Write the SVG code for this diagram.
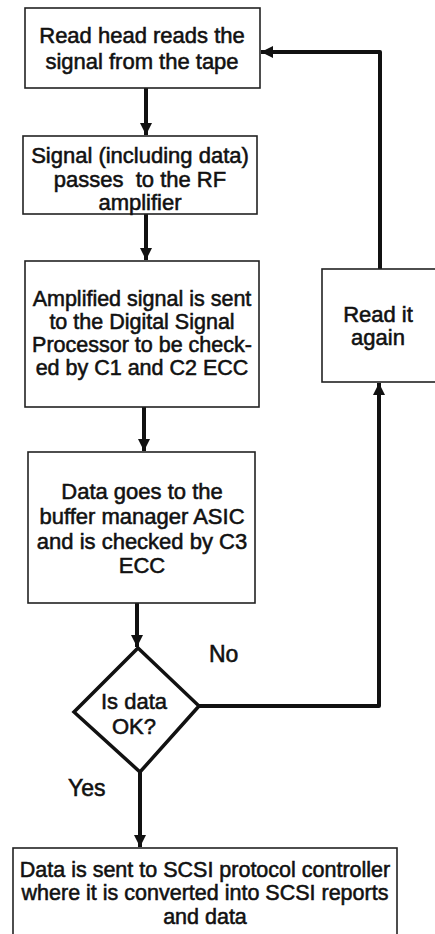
<svg xmlns="http://www.w3.org/2000/svg" width="435" height="934" viewBox="0 0 435 934">
<defs>
<marker id="ah" markerUnits="userSpaceOnUse" markerWidth="12" markerHeight="12" refX="10" refY="5" orient="auto" viewBox="0 0 10 10">
<path d="M0,0 L10,5 L0,10 Z" fill="#111"/>
</marker>
<style>
.box{fill:#fff;stroke:#222;stroke-width:1.6}
.dia{fill:#fff;stroke:#111;stroke-width:3.5;stroke-linejoin:miter}
.t{font-family:"Liberation Sans",Arial,sans-serif;font-size:22px;fill:#111;stroke:#111;stroke-width:0.55;text-anchor:middle}
.lbl{font-family:"Liberation Sans",Arial,sans-serif;font-size:23px;fill:#111;stroke:#111;stroke-width:0.55}
.c{fill:none;stroke:#111;stroke-width:4;stroke-linejoin:round}
</style>
</defs>
<rect width="435" height="934" fill="#fff"/>
<g id="connectors">
<line class="c" x1="146" y1="88" x2="146" y2="135" marker-end="url(#ah)"/>
<line class="c" x1="146" y1="214" x2="146" y2="260" marker-end="url(#ah)"/>
<line class="c" x1="144" y1="407" x2="144" y2="451" marker-end="url(#ah)"/>
<line class="c" x1="137" y1="603" x2="137" y2="647" marker-end="url(#ah)"/>
<line class="c" x1="140" y1="772" x2="140" y2="847" marker-end="url(#ah)"/>
<path class="c" d="M199,706 H379 V383" marker-end="url(#ah)"/>
<path class="c" d="M380,269 V52 H261" marker-end="url(#ah)"/>
<text class="lbl" x="209" y="662">No</text>
<text class="lbl" x="68" y="796">Yes</text>
</g>
<g id="read-head">
<rect class="box" x="25" y="8" width="235" height="80"/>
<text class="t"><tspan x="142" y="43">Read head reads the</tspan><tspan x="142" y="69">signal from the tape</tspan></text>
</g>
<g id="rf-amp">
<rect class="box" x="23" y="136" width="234" height="78"/>
<text class="t" xml:space="preserve"><tspan x="140" y="163">Signal (including data)</tspan><tspan x="140" y="187">passes  to the RF</tspan><tspan x="140" y="210">amplifier</tspan></text>
</g>
<g id="dsp">
<rect class="box" x="25" y="261" width="234" height="146"/>
<text class="t" style="font-size:21.5px"><tspan x="142" y="306">Amplified signal is sent</tspan><tspan x="142" y="329">to the Digital Signal</tspan><tspan x="142" y="352">Processor to be check-</tspan><tspan x="142" y="375">ed by C1 and C2 ECC</tspan></text>
</g>
<g id="buffer">
<rect class="box" x="28" y="452" width="227" height="151"/>
<text class="t"><tspan x="142" y="499">Data goes to the</tspan><tspan x="142" y="524">buffer manager ASIC</tspan><tspan x="142" y="549">and is checked by C3</tspan><tspan x="142" y="573">ECC</tspan></text>
</g>
<g id="read-again">
<rect class="box" x="322" y="269" width="125" height="113"/>
<text class="t"><tspan x="378" y="322">Read it</tspan><tspan x="378" y="345">again</tspan></text>
</g>
<g id="decision">
<polygon class="dia" points="138,648 199,706 140,772 74,712"/>
<text class="t"><tspan x="134" y="709">Is data</tspan><tspan x="134" y="734">OK?</tspan></text>
</g>
<g id="scsi">
<rect class="box" x="13" y="848" width="384" height="100"/>
<text class="t" style="font-size:21.5px"><tspan x="205" y="877">Data is sent to SCSI protocol controller</tspan><tspan x="205" y="900">where it is converted into SCSI reports</tspan><tspan x="205" y="924">and data</tspan></text>
</g>
</svg>
